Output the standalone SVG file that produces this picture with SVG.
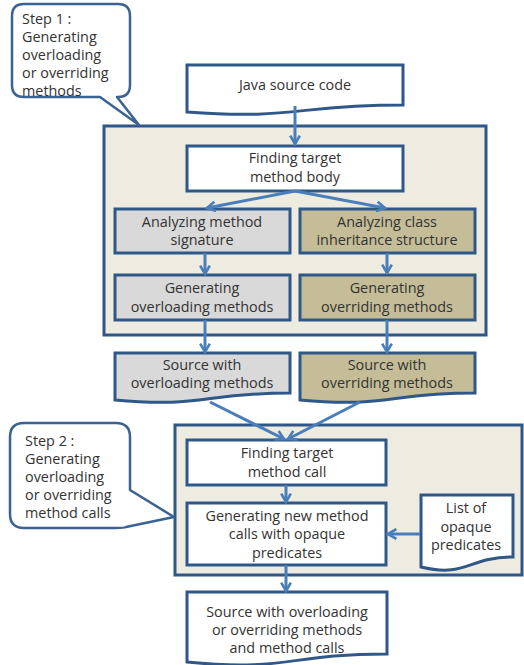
<svg xmlns="http://www.w3.org/2000/svg" width="524" height="665" viewBox="0 0 524 665">
<defs>
<style>
.box{stroke:#2F5888;stroke-width:3;}
.w{fill:#ffffff;}
.g{fill:#D9D9D9;}
.k{fill:#C4BD97;}
.cont{fill:#EEECE1;stroke:#2F5888;stroke-width:3;}
.call{fill:#ffffff;stroke:#3A6292;stroke-width:2.5;stroke-linejoin:round;}
.t{font-family:"Open Sans","Noto Sans",sans-serif;font-size:14.4px;fill:#333333;text-anchor:middle;}
.tl{font-family:"Open Sans","Noto Sans",sans-serif;font-size:14.4px;fill:#333333;}
.a{stroke:#4A7EBB;stroke-width:3;fill:none;marker-end:url(#ah);}
</style>
<marker id="ah" viewBox="0 0 10 10" refX="8" refY="5" markerWidth="4" markerHeight="4" orient="auto" markerUnits="strokeWidth">
<polyline points="1,1 8,5 1,9" fill="none" stroke="#4A7EBB" stroke-width="2.2"/>
</marker>
</defs>
<rect width="524" height="665" fill="#ffffff"/>

<g id="step1-container"><rect class="cont" x="104" y="126" width="382" height="209"/></g>
<g id="step2-container"><rect class="cont" x="175" y="425" width="347" height="150"/></g>

<g id="callout1">
<path class="call" d="M24,4 H118 Q130,4 130,16 V85 Q130,97 118,97 H117 L139,125 L100,97 H24 Q12,97 12,85 V16 Q12,4 24,4 Z"/>
<text class="tl" x="22" y="24">Step 1 :</text>
<text class="tl" x="22" y="42">Generating</text>
<text class="tl" x="22" y="60">overloading</text>
<text class="tl" x="22" y="78">or overriding</text>
<text class="tl" x="22" y="96">methods</text>
</g>

<g id="callout2">
<path class="call" d="M24,423 H116 Q130,423 130,437 V490 L174,517 L126,527 Q124,528 116,528 H24 Q10,528 10,514 V437 Q10,423 24,423 Z"/>
<text class="tl" x="25" y="446">Step 2 :</text>
<text class="tl" x="25" y="464">Generating</text>
<text class="tl" x="25" y="482">overloading</text>
<text class="tl" x="25" y="500">or overriding</text>
<text class="tl" x="25" y="518">method calls</text>
</g>

<g id="java-source">
<path class="box w" d="M187,65 H403 V105 C295,105 295,120 187,112 Z"/>
<text class="t" x="295" y="90">Java source code</text>
</g>

<g id="find-body">
<rect class="box w" x="187" y="146" width="216" height="45"/>
<text class="t" x="295" y="163">Finding target</text>
<text class="t" x="295" y="182">method body</text>
</g>

<g id="analyze-sig">
<rect class="box g" x="115" y="209" width="175" height="44"/>
<text class="t" x="202" y="227">Analyzing method</text>
<text class="t" x="202" y="245">signature</text>
</g>

<g id="analyze-class">
<rect class="box k" x="300" y="209" width="175" height="44"/>
<text class="t" x="387" y="227">Analyzing class</text>
<text class="t" x="387" y="245">inheritance structure</text>
</g>

<g id="gen-overload">
<rect class="box g" x="115" y="275" width="175" height="45"/>
<text class="t" x="202" y="293">Generating</text>
<text class="t" x="202" y="312">overloading methods</text>
</g>

<g id="gen-override">
<rect class="box k" x="300" y="275" width="175" height="45"/>
<text class="t" x="387" y="293">Generating</text>
<text class="t" x="387" y="312">overriding methods</text>
</g>

<g id="src-overload">
<path class="box g" d="M115,353 H290 V393 C202,393 202,408 115,400 Z"/>
<text class="t" x="202" y="370">Source with</text>
<text class="t" x="202" y="388">overloading methods</text>
</g>

<g id="src-override">
<path class="box k" d="M300,353 H475 V393 C387,393 387,408 300,400 Z"/>
<text class="t" x="387" y="370">Source with</text>
<text class="t" x="387" y="388">overriding methods</text>
</g>

<g id="find-call">
<rect class="box w" x="187" y="440" width="199" height="45"/>
<text class="t" x="287" y="458">Finding target</text>
<text class="t" x="287" y="477">method call</text>
</g>

<g id="gen-calls">
<rect class="box w" x="187" y="503" width="199" height="62"/>
<text class="t" x="287" y="521">Generating new method</text>
<text class="t" x="287" y="539">calls with opaque</text>
<text class="t" x="287" y="558">predicates</text>
</g>

<g id="opaque-list">
<path class="box w" d="M421,495 H513 V557 C467,557 467,578 421,567 Z"/>
<text class="t" x="466" y="513">List of</text>
<text class="t" x="466" y="532">opaque</text>
<text class="t" x="466" y="550">predicates</text>
</g>

<g id="final-src">
<path class="box w" d="M187,592 H387 V654 C287,654 287,672 187,662 Z"/>
<text class="t" x="287" y="617">Source with overloading</text>
<text class="t" x="287" y="635">or overriding methods</text>
<text class="t" x="287" y="653">and method calls</text>
</g>

<g id="connectors">
<line class="a" x1="295" y1="106" x2="295" y2="144"/>
<line class="a" x1="295" y1="191" x2="207" y2="208"/>
<line class="a" x1="295" y1="191" x2="385" y2="208"/>
<line class="a" x1="205" y1="253" x2="205" y2="274"/>
<line class="a" x1="387" y1="253" x2="387" y2="273"/>
<line class="a" x1="205" y1="320" x2="205" y2="352"/>
<line class="a" x1="387" y1="320" x2="387" y2="352"/>
<line class="a" x1="210" y1="402" x2="284" y2="439"/>
<line class="a" x1="360" y1="402" x2="288" y2="439"/>
<line class="a" x1="286" y1="485" x2="286" y2="502"/>
<line class="a" x1="420" y1="534" x2="388" y2="534"/>
<line class="a" x1="286" y1="565" x2="286" y2="591"/>
</g>
</svg>
